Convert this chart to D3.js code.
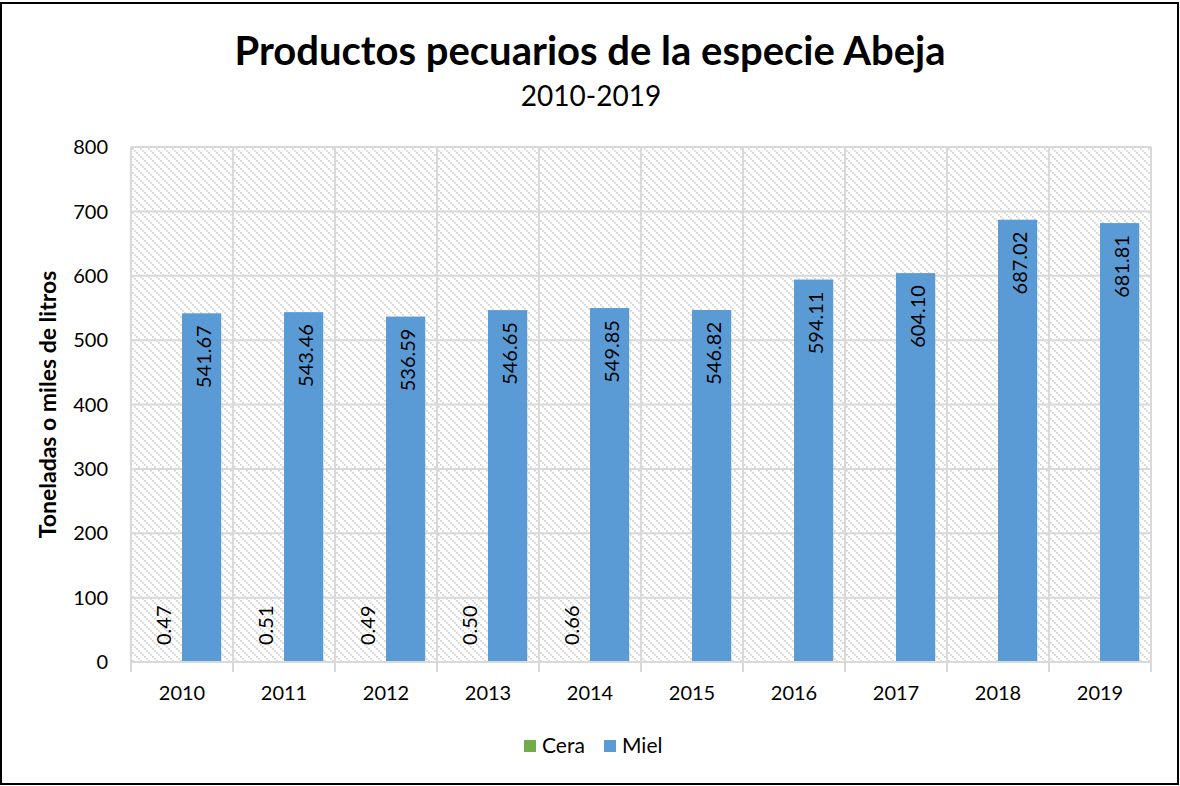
<!DOCTYPE html>
<html>
<head>
<meta charset="utf-8">
<script src="https://cdn.jsdelivr.net/npm/d3@7"></script>
<style>
  html, body { margin: 0; padding: 0; background: #fff; }
  svg { display: block; font-family: Lato, "Open Sans", sans-serif; }
</style>
</head>
<body>
<svg id="chart" width="1180" height="786"></svg>
<script>
// Production of bee products, 2010-2019
const years = ["2010", "2011", "2012", "2013", "2014", "2015", "2016", "2017", "2018", "2019"];
const seriesNames = ["Cera", "Miel"];
const cera = [0.47, 0.51, 0.49, 0.50, 0.66, null, null, null, null, null];
const miel = [541.67, 543.46, 536.59, 546.65, 549.85, 546.82, 594.11, 604.10, 687.02, 681.81];
const yTicks = [0, 100, 200, 300, 400, 500, 600, 700, 800];
const colors = { Cera: "#70ad47", Miel: "#5b9bd5" };

const svg = d3.select("#chart");
const W = 1180, H = 786;
const plot = { left: 131, right: 1151, top: 147, bottom: 662 };

// outer frame
svg.append("rect").attr("x", 1).attr("y", 3).attr("width", W - 3).attr("height", H - 5)
  .attr("fill", "#fff").attr("stroke", "#000").attr("stroke-width", 2);

// diagonal dotted hatch for the plot background
const defs = svg.append("defs");
const pat = defs.append("pattern").attr("id", "hatch").attr("patternUnits", "userSpaceOnUse")
  .attr("width", 8).attr("height", 8);
pat.append("rect").attr("width", 8).attr("height", 8).attr("fill", "#fff");
[0, 2, 4, 6].forEach(i => {
  pat.append("rect").attr("x", i).attr("y", i).attr("width", 1.7).attr("height", 1.7).attr("fill", "#d0d0d0");
});

const x0 = d3.scaleBand().domain(years).range([plot.left, plot.right]).paddingInner(0).paddingOuter(0);
const x1 = d3.scaleBand().domain(seriesNames).range([0, x0.bandwidth()]).paddingInner(0).paddingOuter(0.3);
const y = d3.scaleLinear().domain([0, 800]).range([plot.bottom, plot.top]);

svg.append("rect").attr("x", plot.left).attr("y", plot.top)
  .attr("width", plot.right - plot.left).attr("height", plot.bottom - plot.top)
  .attr("fill", "url(#hatch)");

// horizontal gridlines
svg.append("g").selectAll("line").data(yTicks.filter(t => t > 0)).join("line")
  .attr("x1", plot.left).attr("x2", plot.right)
  .attr("y1", d => y(d)).attr("y2", d => y(d))
  .attr("stroke", "#d9d9d9").attr("stroke-width", 2);

// vertical gridlines at category boundaries
const bounds = years.map(d => x0(d)).concat([plot.right]);
svg.append("g").selectAll("line").data(bounds).join("line")
  .attr("x1", d => d).attr("x2", d => d)
  .attr("y1", plot.top).attr("y2", plot.bottom + 10)
  .attr("stroke", "#d9d9d9").attr("stroke-width", 2);

// bars
const rows = years.map((yr, i) => ({ year: yr, values: [
  { key: "Cera", v: cera[i] }, { key: "Miel", v: miel[i] }] }));

const groups = svg.append("g").selectAll("g").data(rows).join("g")
  .attr("transform", d => `translate(${x0(d.year)},0)`);

groups.selectAll("rect").data(d => d.values.filter(v => v.v != null)).join("rect")
  .attr("x", d => x1(d.key)).attr("width", x1.bandwidth())
  .attr("y", d => y(d.v)).attr("height", d => y(0) - y(d.v))
  .attr("fill", d => colors[d.key]);

// value labels (rotated)
groups.selectAll("text.val").data(d => d.values.filter(v => v.v != null)).join("text")
  .attr("class", "val")
  .attr("font-size", 20).attr("fill", "#000")
  .attr("dominant-baseline", "central")
  .attr("text-anchor", d => d.key === "Miel" ? "end" : "start")
  .attr("transform", d => {
    const cx = x1(d.key) + x1.bandwidth() / 2 + 1;
    const cy = d.key === "Miel" ? y(d.v) + 12 : y(0) - 17;
    return `translate(${cx},${cy}) rotate(-90)`;
  })
  .text(d => d.v.toFixed(2));

// x axis baseline
svg.append("line").attr("x1", plot.left).attr("x2", plot.right)
  .attr("y1", plot.bottom).attr("y2", plot.bottom)
  .attr("stroke", "#d9d9d9").attr("stroke-width", 2);

// y tick labels
svg.append("g").selectAll("text").data(yTicks).join("text")
  .attr("x", 108).attr("y", d => y(d)).attr("dy", "0.36em")
  .attr("text-anchor", "end").attr("font-size", 20).attr("fill", "#000")
  .text(d => d);

// x tick labels
svg.append("g").selectAll("text").data(years).join("text")
  .attr("x", d => x0(d) + x0.bandwidth() / 2).attr("y", 700)
  .attr("text-anchor", "middle").attr("font-size", 20).attr("fill", "#000")
  .text(d => d);

// y axis title
svg.append("text").attr("transform", `translate(56,${(plot.top + plot.bottom) / 2}) rotate(-90)`)
  .attr("text-anchor", "middle").attr("font-size", 23).attr("font-weight", "bold")
  .text("Toneladas o miles de litros");

// titles
svg.append("text").attr("x", 590).attr("y", 65).attr("text-anchor", "middle")
  .attr("font-size", 40).attr("font-weight", "bold").text("Productos pecuarios de la especie Abeja");
svg.append("text").attr("x", 591).attr("y", 106).attr("text-anchor", "middle")
  .attr("font-size", 28).text("2010-2019");

// legend
const legend = svg.append("g");
const legendItems = [{ key: "Cera", x: 524 }, { key: "Miel", x: 604 }];
legendItems.forEach(it => {
  legend.append("rect").attr("x", it.x).attr("y", 740).attr("width", 12).attr("height", 12)
    .attr("fill", colors[it.key]);
  legend.append("text").attr("x", it.x + 18).attr("y", 753).attr("font-size", 21).text(it.key);
});
</script>
</body>
</html>
